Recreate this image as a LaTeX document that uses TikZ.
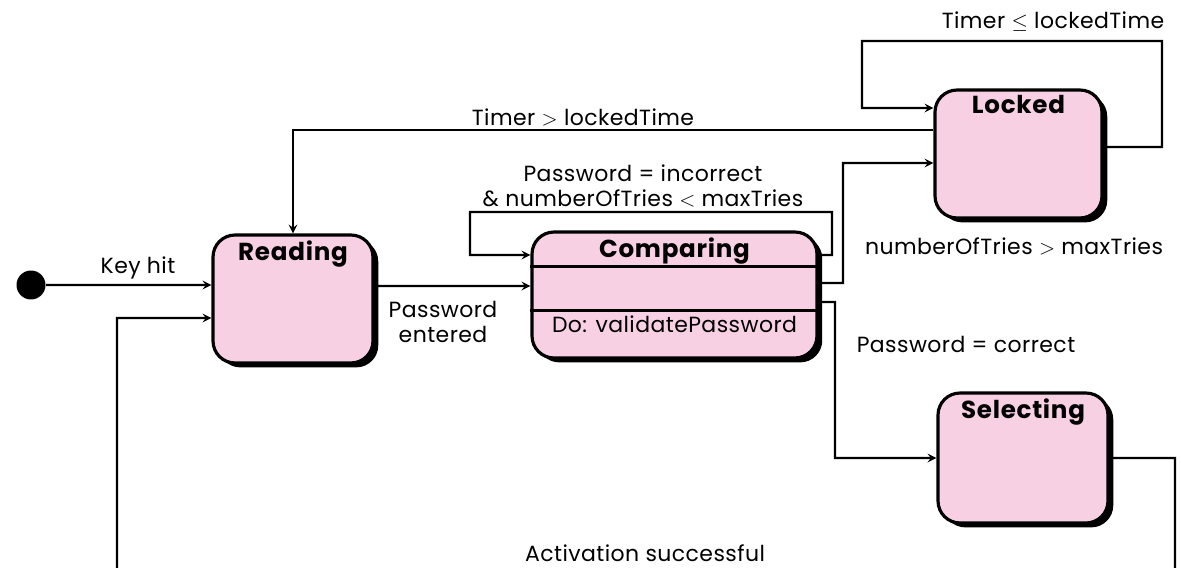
\documentclass[tikz,border=0pt]{standalone}
\usepackage{fontspec}
\setmainfont{Poppins}
\usepackage{tikz}
\usetikzlibrary{arrows}
\usetikzlibrary{shadows}
\definecolor{statepink}{RGB}{248,208,228}

\begin{document}
\begin{tikzpicture}[x=0.02cm, y=-0.02cm,
    state/.style={draw, line width=1.8pt, fill=statepink, rounded corners=4.4mm,
      drop shadow={shadow xshift=3pt, shadow yshift=-2.5pt, fill=black, opacity=1}},
    title/.style={anchor=north, font=\fontsize{14}{16}\selectfont\bfseries\addfontfeature{LetterSpace=3},
      yshift=-0.02cm},
    trans/.style={-stealth, line width=1.2pt},
    guard/.style={font=\fontsize{12.5}{14}\selectfont\addfontfeature{LetterSpace=2}, align=center}]
    \useasboundingbox (0,0) rectangle (1181,568);
    \clip (0,0) rectangle (1181,568);

    % states
    \node[circle, fill=black, minimum size=0.58cm, inner sep=0] (start) at (31,285) {};
    \node[state, minimum width=3.2cm, minimum height=2.56cm,
      label={[title]north:Reading}] (reading) at (293,299) {};
    \node[state, minimum width=5.7cm, minimum height=2.52cm,
      label={[title]north:Comparing}] (comparing) at (674.5,295) {};
    \node[state, minimum width=3.34cm, minimum height=2.56cm,
      label={[title]north:Locked}] (locked) at (1018.5,154) {};
    \node[state, minimum width=3.4cm, minimum height=2.6cm,
      label={[title]north:Selecting}] (selecting) at (1023,458) {};

    % compartments of Comparing
    \draw[line width=1.8pt] ([yshift=-0.72cm]comparing.north west) -- ([yshift=-0.72cm]comparing.north east);
    \draw[line width=1.8pt] ([yshift=-1.6cm]comparing.north west) -- ([yshift=-1.6cm]comparing.north east);
    \node[guard] (doaction) at ([yshift=-1.88cm]comparing.north) {Do: validatePassword};

    % transitions
    \draw[trans] (start) -- ([yshift=0.28cm]reading.west);
    \draw[trans] ([yshift=0.26cm]reading.east) -- ([yshift=0.18cm]comparing.west);
    \draw[trans] ([yshift=0.8cm]comparing.east) -| (832,212) -| (470,255) -- ([yshift=0.8cm]comparing.west);
    \draw[trans] ([yshift=0.24cm]comparing.east) -- (843,283) |- ([yshift=-0.18cm]locked.west);
    \draw[trans] ([yshift=-0.14cm]comparing.east) -- (835,302) |- (selecting.west);
    \draw[trans] ([yshift=0.14cm]locked.east) -| (1162,41) -| (862,108) -- ([yshift=0.92cm]locked.west);
    \draw[trans] ([yshift=0.48cm]locked.west) -| (reading.north);
    \draw[trans] (selecting.east) -| (1175,620) -| (117,318) -- ([yshift=-0.38cm]reading.west);

    % guards
    \node[guard] (keylbl) at (138,268) {Key hit};
    \node[guard] (pwdlbl) at (443,322) {Password\\entered};
    \node[guard] (retrylbl) at (643,186) {Password = incorrect\\\& numberOfTries $<$ maxTries};
    \node[guard] (timeoutlbl) at (583,117) {Timer $>$ lockedTime};
    \node[guard] (waitlbl) at (1053,22) {Timer $\leq$ lockedTime};
    \node[guard] (lockedlbl) at (1014,246) {numberOfTries $>$ maxTries};
    \node[guard] (correctlbl) at (966,344) {Password = correct};
    \node[guard] (activlbl) at (645,553) {Activation successful};

\end{tikzpicture}
\end{document}
